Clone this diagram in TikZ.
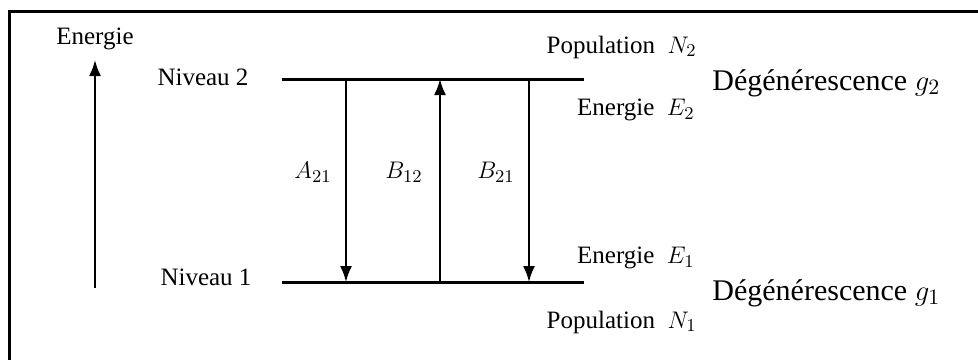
\documentclass[tikz,border=0pt]{standalone}
\usepackage{fontspec}
\setmainfont{Liberation Serif}
\usepackage{tikz}
\usetikzlibrary{positioning,arrows.meta}

\begin{document}
\begin{tikzpicture}[
    x=0.5pt, y=-0.5pt,
    level/.style={line width=1.5pt},
    trans/.style={-{Latex[length=8pt,width=6pt]}, line width=1pt},
    axis/.style={-{Latex[length=8pt,width=6pt]}, line width=1pt},
    lbl/.style={font=\fontsize{12.5}{14}\selectfont, inner sep=0pt},
    degen/.style={font=\fontsize{15}{18}\selectfont, inner sep=0pt}
]
    \useasboundingbox (0,0) rectangle (978,359);
    \clip (0,0) rectangle (978,359);

    % Frame
    \draw[line width=1.5pt] (9,11) rectangle (995,375);

    % Energy axis
    \node[lbl] (energie) at (95,39) {Energie};
    \coordinate (axbot) at (95,288);
    \coordinate (axtop) at (95,60);
    \draw[axis] (axbot) -- (axtop);

    % Levels
    \node[lbl] (niv2) at (203,77) {Niveau 2};
    \node[lbl] (niv1) at (206,277) {Niveau 1};
    \coordinate (n2l) at (282,79);
    \coordinate (n2r) at (584,79);
    \coordinate (n1l) at (282,282);
    \coordinate (n1r) at (584,282);
    \draw[level] (n2l) -- (n2r);
    \draw[level] (n1l) -- (n1r);

    % Transitions
    \coordinate (a2) at (346,79);
    \coordinate (a1) at (346,282);
    \coordinate (b2) at (440,79);
    \coordinate (b1) at (440,282);
    \coordinate (c2) at (529,79);
    \coordinate (c1) at (529,282);
    \draw[trans] (a2) -- (a1);
    \draw[trans] (b1) -- (b2);
    \draw[trans] (c2) -- (c1);
    \node[lbl] (a21) at (313,172) {$A_{21}$};
    \node[lbl] (b12) at (404,172) {$B_{12}$};
    \node[lbl] (b21) at (496,172) {$B_{21}$};

    % Level properties
    \node[lbl, anchor=east] (pop2) at (697,47) {Population~ $N_2$};
    \node[lbl, anchor=east] (ene2) at (695,110) {Energie~ $E_2$};
    \node[degen, anchor=west] (deg2) at (712,83) {Dégénérescence $g_2$};
    \node[lbl, anchor=east] (ene1) at (695,258) {Energie~ $E_1$};
    \node[degen, anchor=west] (deg1) at (712,293) {Dégénérescence $g_1$};
    \node[lbl, anchor=east] (pop1) at (697,322) {Population~ $N_1$};
\end{tikzpicture}
\end{document}
